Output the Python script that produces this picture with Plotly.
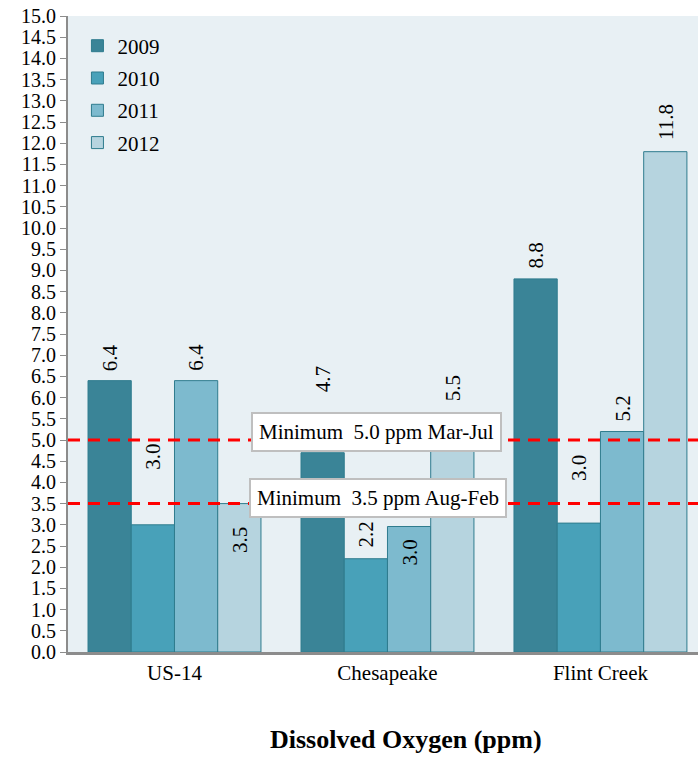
import plotly.graph_objects as go

sites = ["US-14", "Chesapeake", "Flint Creek"]
years = ["2009", "2010", "2011", "2012"]
do_2009 = [6.4, 4.7, 8.8]
do_2010 = [3.0, 2.2, 3.04]
do_2011 = [6.4, 2.96, 5.2]
do_2012 = [3.5, 5.5, 11.8]
series = [do_2009, do_2010, do_2011, do_2012]
label_text = [["6.4", "4.7", "8.8"], ["3.0", "2.2", "3.0"], ["6.4", "3.0", "5.2"], ["3.5", "5.5", "11.8"]]
min_spring = 5.0
min_winter = 3.5
y_ticks = [i * 0.5 for i in range(31)]

# styles
colors = ["#3A8497", "#48A1B9", "#7DBACE", "#B6D4DF"]
label_yshift = [[23, 73, 23], [68, 24, 55], [23, -26, 23], [-36, 31, 30]]
FONT = "Liberation Serif, Times New Roman, serif"
bargap = 0.188
bw = (1 - bargap) / 4

fig = go.Figure()
xs = list(range(len(sites)))
for i, (yr, vals) in enumerate(zip(years, series)):
    fig.add_trace(go.Bar(
        x=xs, y=vals, name=yr, legendgroup=yr,
        marker=dict(color=colors[i], line=dict(color="#2F7C8E", width=1)),
        hoverinfo="y",
    ))

annotations = []
for i, vals in enumerate(series):
    for j, v in enumerate(vals):
        annotations.append(dict(
            x=j + (i - 1.5) * bw, y=v, xref="x", yref="y",
            text=label_text[i][j], showarrow=False, textangle=-90,
            yanchor="middle", xanchor="center", yshift=label_yshift[i][j],
            font=dict(family=FONT, size=21, color="black"),
        ))

for val, txt, xc, ysh in [(min_spring, "Minimum&nbsp; 5.0 ppm Mar-Jul", 0.948, 8),
                          (min_winter, "Minimum&nbsp; 3.5 ppm Aug-Feb", 0.955, 6)]:
    fig.add_shape(type="line", xref="paper", x0=0, x1=1, yref="y", y0=val, y1=val,
                  line=dict(color="#FF0000", width=3, dash="12px,8px"), layer="above")
    annotations.append(dict(
        x=xc, y=val, xref="x", yref="y", text=txt, showarrow=False,
        yanchor="middle", yshift=ysh, bgcolor="white", bordercolor="#BFBFBF",
        borderwidth=2, borderpad=6,
        font=dict(family=FONT, size=21, color="black"),
    ))

annotations.append(dict(
    x=(406 - 68) / 630, y=-0.138, xref="paper", yref="paper",
    text="<b>Dissolved Oxygen (ppm)</b>", showarrow=False,
    font=dict(family=FONT, size=26, color="black"), yanchor="middle",
))

fig.update_layout(
    width=698, height=758,
    margin=dict(l=68, r=0, t=16, b=106, pad=0),
    paper_bgcolor="white", plot_bgcolor="#E8F0F4",
    barmode="group", bargap=bargap, bargroupgap=0,
    font=dict(family=FONT, size=21, color="black"),
    showlegend=True,
    legend=dict(x=0.015, y=0.985, xanchor="left", yanchor="top",
                bgcolor="rgba(0,0,0,0)", font=dict(family=FONT, size=21),
                tracegroupgap=2, itemclick=False, itemwidth=30),
    annotations=annotations,
    xaxis=dict(range=[-0.5, 2.458], tickmode="array", tickvals=xs, ticktext=sites,
               showgrid=False, zeroline=False, showline=True, linecolor="#8C8C8C",
               linewidth=3, ticks="", tickfont=dict(family=FONT, size=21),
               fixedrange=True),
    yaxis=dict(range=[0, 15], tickmode="array", tickvals=y_ticks,
               ticktext=[f"{t:.1f}" for t in y_ticks], ticklabeloverflow="allow",
               showgrid=False, zeroline=False, showline=True, linecolor="#8C8C8C",
               linewidth=2, ticks="outside", ticklen=6, tickcolor="#8C8C8C",
               tickfont=dict(family=FONT, size=20), fixedrange=True),
)

fig.write_html("out.html", config={"displayModeBar": False},
               post_script="document.body.style.margin='0';")
